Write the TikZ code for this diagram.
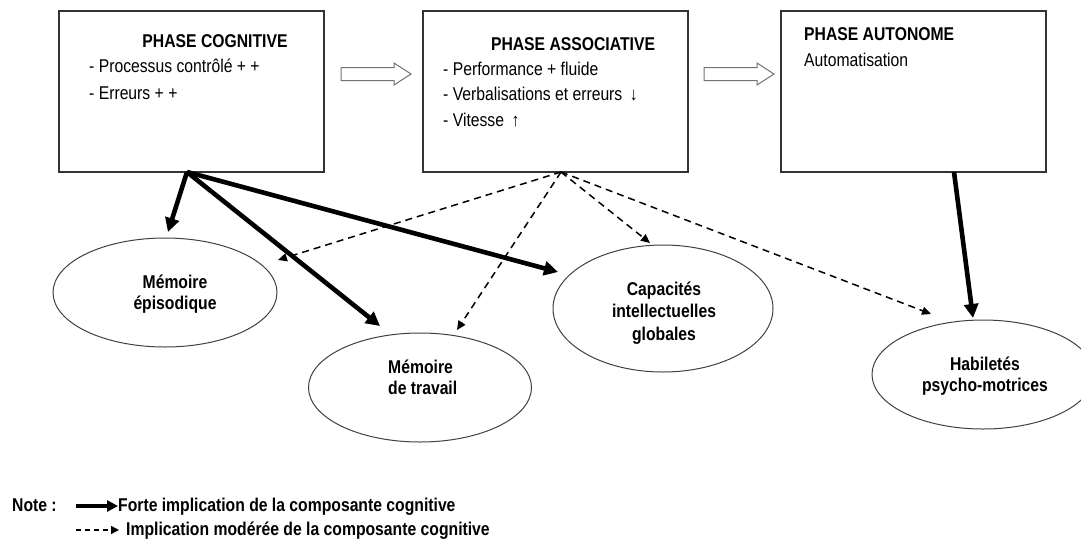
\documentclass[tikz,border=0pt]{standalone}
\usepackage{fontspec}
\setmainfont{Liberation Sans}[FakeStretch=0.85]
\usetikzlibrary{arrows.meta,shapes.geometric}
\begin{document}
\begin{tikzpicture}[x=1pt,y=-1pt,
  phase/.style={draw=black!80, line width=1.1pt, minimum width=265pt, minimum height=161pt, inner sep=0pt},
  oval/.style={draw=black!75, line width=1pt, ellipse, inner sep=0pt},
  txt/.style={font=\fontsize{18.5}{21}\selectfont, inner sep=0pt},
  btxt/.style={font=\fontsize{18.5}{21}\selectfont\bfseries, inner sep=0pt},
  strong/.style={line width=4.6pt, -{Triangle[length=14pt,width=14pt]}},
  moderate/.style={line width=1.5pt, dash pattern=on 7pt off 5pt, -{Triangle[length=9pt,width=8pt]}},
  hollow/.style={draw=black!55, line width=1pt, fill=white, line join=miter}
]
\useasboundingbox (0,0) rectangle (1081,539);

% phase boxes
\node[phase] (cog) at (191.5,91.5) {};
\node[phase] (ass) at (555.5,91.5) {};
\node[phase] (aut) at (913.5,91.5) {};

\node[btxt, anchor=base] (cogT) at (215,47.7) {PHASE COGNITIVE};
\node[txt, anchor=base west] (cog1) at (89,72.7) {- Processus contrôlé + +};
\node[txt, anchor=base west] (cog2) at (89,99) {- Erreurs + +};

\node[btxt, anchor=base] (assT) at (573,50) {PHASE ASSOCIATIVE};
\node[txt, anchor=base west] (ass1) at (443,75) {- Performance + fluide};
\node[txt, anchor=base west] (ass2) at (443,100.7) {- Verbalisations et erreurs \,↓};
\node[txt, anchor=base west] (ass3) at (443,126.7) {- Vitesse \,↑};

\node[btxt, anchor=base west] (autT) at (804,40.7) {PHASE AUTONOME};
\node[txt, anchor=base west] (aut1) at (804,66) {Automatisation};

% hollow arrows between phases
\coordinate (a1s) at (341,74);
\coordinate (a1e) at (411,74);
\coordinate (a2s) at (704,74);
\coordinate (a2e) at (774,74);
\draw[hollow] (a1s) ++(0,-6.5) -- ++(53,0) -- ++(0,-4.5) -- (a1e) -- ++(-17,11) -- ++(0,-4.5) -- ++(-53,0) -- cycle;
\draw[hollow] (a2s) ++(0,-6.5) -- ++(53,0) -- ++(0,-4.5) -- (a2e) -- ++(-17,11) -- ++(0,-4.5) -- ++(-53,0) -- cycle;

% ellipses
\node[oval, minimum width=224pt, minimum height=109pt] (epi) at (165,292.5) {};
\node[oval, minimum width=223pt, minimum height=109pt] (trav) at (420,387.5) {};
\node[oval, minimum width=220pt, minimum height=127pt] (cap) at (663,308.5) {};
\node[oval, minimum width=222pt, minimum height=109pt] (hab) at (983,374.5) {};

\node[btxt, align=center] (epiT) at (175,294.5) {Mémoire\\épisodique};
\node[btxt, align=left, anchor=west] (travT) at (388,377) {Mémoire\\de travail};
\node[btxt, align=center, font=\fontsize{18.5}{22.5}\selectfont\bfseries] (capT) at (664,313) {Capacités\\intellectuelles\\globales};
\node[btxt, align=center] (habT) at (985,376) {Habiletés\\psycho-motrices};

% strong implication (from cognitive phase)
\coordinate (s1) at (187,172);
\coordinate (e1) at (168,232);
\coordinate (e2) at (380,326);
\coordinate (e3) at (558,272);
\draw[strong] (s1) -- (e1);
\draw[strong] (s1) -- (e2);
\draw[strong] (s1) -- (e3);

% moderate implication (from associative phase)
\coordinate (s2) at (561,172);
\coordinate (d1) at (278,260);
\coordinate (d2) at (457,330);
\coordinate (d3) at (650,243);
\coordinate (d4) at (931,314);
\draw[moderate] (s2) -- (d1);
\draw[moderate] (s2) -- (d2);
\draw[moderate] (s2) -- (d3);
\draw[moderate] (s2) -- (d4);

% strong implication (from autonomous phase)
\coordinate (s3) at (954,172);
\coordinate (e4) at (973,318);
\draw[strong] (s3) -- (e4);

% legend
\node[btxt, anchor=base west] (note) at (12,511.7) {Note :};
\coordinate (l1s) at (76,506);
\coordinate (l1e) at (118,506);
\draw[line width=4pt, -{Triangle[length=11pt,width=11pt]}] (l1s) -- (l1e);
\node[btxt, anchor=base west] (leg1) at (118,511.7) {Forte implication de la composante cognitive};
\coordinate (l2s) at (76,530);
\coordinate (l2e) at (119,530);
\draw[line width=1.3pt, dash pattern=on 5pt off 4pt, -{Triangle[length=8pt,width=8pt]}] (l2s) -- (l2e);
\node[btxt, anchor=base west] (leg2) at (126,535) {Implication modérée de la composante cognitive};
\end{tikzpicture}
\end{document}
